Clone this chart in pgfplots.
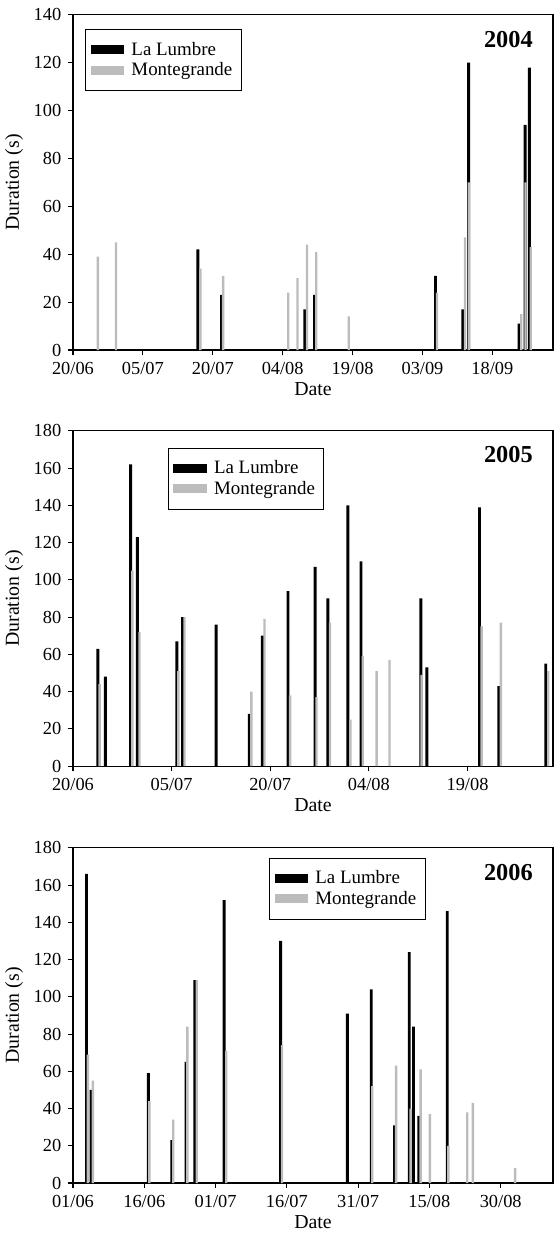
\documentclass[border=0pt]{standalone}
\usepackage{fontspec}
\setmainfont{Liberation Serif}
\usepackage{pgfplots}
\pgfplotsset{compat=1.18}

\definecolor{mgray}{RGB}{188,188,188}

\tikzset{year/.style={anchor=east, font=\fontsize{13.5}{15}\selectfont\bfseries}}

\pgfplotsset{
  panel/.style={
    scale only axis,
    width=266.4pt, height=186pt,
    anchor=south west,
    ymin=0,
    axis line style={line width=0.6pt},
    tick align=outside,
    xtick pos=bottom, ytick pos=left,
    major tick length=3pt,
    tick style={black, line width=0.6pt},
    /pgf/number format/assume math mode=true,
    tick label style={font=\fontsize{10.2}{12}\selectfont},
    label style={font=\fontsize{11}{13}\selectfont},
    xlabel={Date}, ylabel={Duration (s)},
    xlabel style={yshift=2pt},
    ylabel style={yshift=-1pt},
    legend style={draw=black, line width=0.6pt, font=\fontsize{10.5}{12.5}\selectfont,
      anchor=north west, inner xsep=3pt, inner ysep=5pt, row sep=-1.5pt},
    legend cell align=left,
  },
  lumbre/.style={ybar, bar width=1.6pt, fill=black, draw=none,
    area legend, legend image code/.code={\fill[black] (0pt,-2.4pt) rectangle (18.5pt,2.6pt); \path (20.5pt,0pt);}},
  monte/.style={ybar, bar width=1.3pt, fill=mgray, draw=none,
    area legend, legend image code/.code={\fill[mgray] (0pt,-2.4pt) rectangle (18.5pt,2.6pt); \path (20.5pt,0pt);}},
}

\begin{document}
\begin{tikzpicture}
% ---------- 2004 ----------
\begin{axis}[panel, at={(0pt,0pt)},
  xmin=0, xmax=103, ymax=140,
  xtick={0,15,30,45,60,75,90},
  xticklabels={20/06,05/07,20/07,04/08,19/08,03/09,18/09},
  ytick={0,20,...,140},
  legend style={at={(0.025,0.958)}, anchor=north west}]
\addplot[lumbre] coordinates {
  (26.79,42) (31.91,23) (49.77,17) (51.83,23) (77.79,31)
  (83.66,17) (84.89,120) (95.72,11) (97.02,94) (97.94,118)
};
\addplot[monte] coordinates {
  (5.34,39) (9.24,45) (27.33,34) (32.21,31) (46.18,24) (48.17,30)
  (50.23,44) (52.21,41) (59.16,14) (78.10,24) (84.12,47) (84.96,70)
  (96.18,15) (97.10,70) (98.24,43)
};
\legend{La Lumbre, Montegrande}
\node[year] at (rel axis cs:0.971,0.925) {2004};
\end{axis}

% ---------- 2005 ----------
\begin{axis}[panel, at={(0pt,-230.9pt)},
  xmin=0, xmax=73, ymax=180,
  xtick={0,15,30,45,60},
  xticklabels={20/06,05/07,20/07,04/08,19/08},
  ytick={0,20,...,180},
  legend style={at={(0.197,0.95)}, anchor=north west}]
\addplot[lumbre] coordinates {
  (3.79,63) (4.93,48) (8.77,162) (9.80,123) (15.81,67) (16.68,80)
  (21.77,76) (26.80,28) (28.80,70) (32.70,94) (36.82,107) (38.77,90)
  (41.80,140) (43.80,110) (52.90,90) (53.82,53) (61.83,139) (64.75,43)
  (71.90,55)
};
\addplot[monte] coordinates {
  (4.06,44) (9.04,105) (10.12,72) (16.03,51) (16.95,80) (27.13,40)
  (29.13,79) (33.03,38) (37.03,37) (39.09,77) (42.18,25) (44.07,59)
  (46.18,51) (48.13,57) (53.01,49) (62.15,75) (65.08,77) (72.28,51)
};
\legend{La Lumbre, Montegrande}
\node[year] at (rel axis cs:0.971,0.929) {2005};
\end{axis}

% ---------- 2006 ----------
\begin{axis}[panel, at={(0pt,-462.3pt)},
  xmin=0, xmax=101, ymax=180,
  xtick={0,15,30,45,60,75,90},
  xticklabels={01/06,16/06,01/07,16/07,31/07,15/08,30/08},
  ytick={0,20,...,180},
  legend style={at={(0.408,0.971)}, anchor=north west}]
\addplot[lumbre] coordinates {
  (2.84,166) (3.81,50) (15.86,59) (20.79,23) (23.78,65) (25.65,109)
  (31.79,152) (43.68,130) (57.74,91) (62.75,104) (67.69,31) (70.75,124)
  (71.65,84) (72.77,36) (78.76,146)
};
\addplot[monte] coordinates {
  (3.14,69) (4.19,55) (16.08,44) (21.09,34) (24.08,84) (26.03,109)
  (32.24,71) (43.98,74) (62.98,52) (67.99,63) (71.05,40) (73.15,61)
  (75.09,37) (78.98,20) (82.95,38) (84.14,43) (93.04,8)
};
\legend{La Lumbre, Montegrande}
\node[year] at (rel axis cs:0.971,0.926) {2006};
\end{axis}

\pgfresetboundingbox
\path (-40.5pt,-490.6pt) rectangle (268.1pt,194.25pt);
\end{tikzpicture}
\end{document}
